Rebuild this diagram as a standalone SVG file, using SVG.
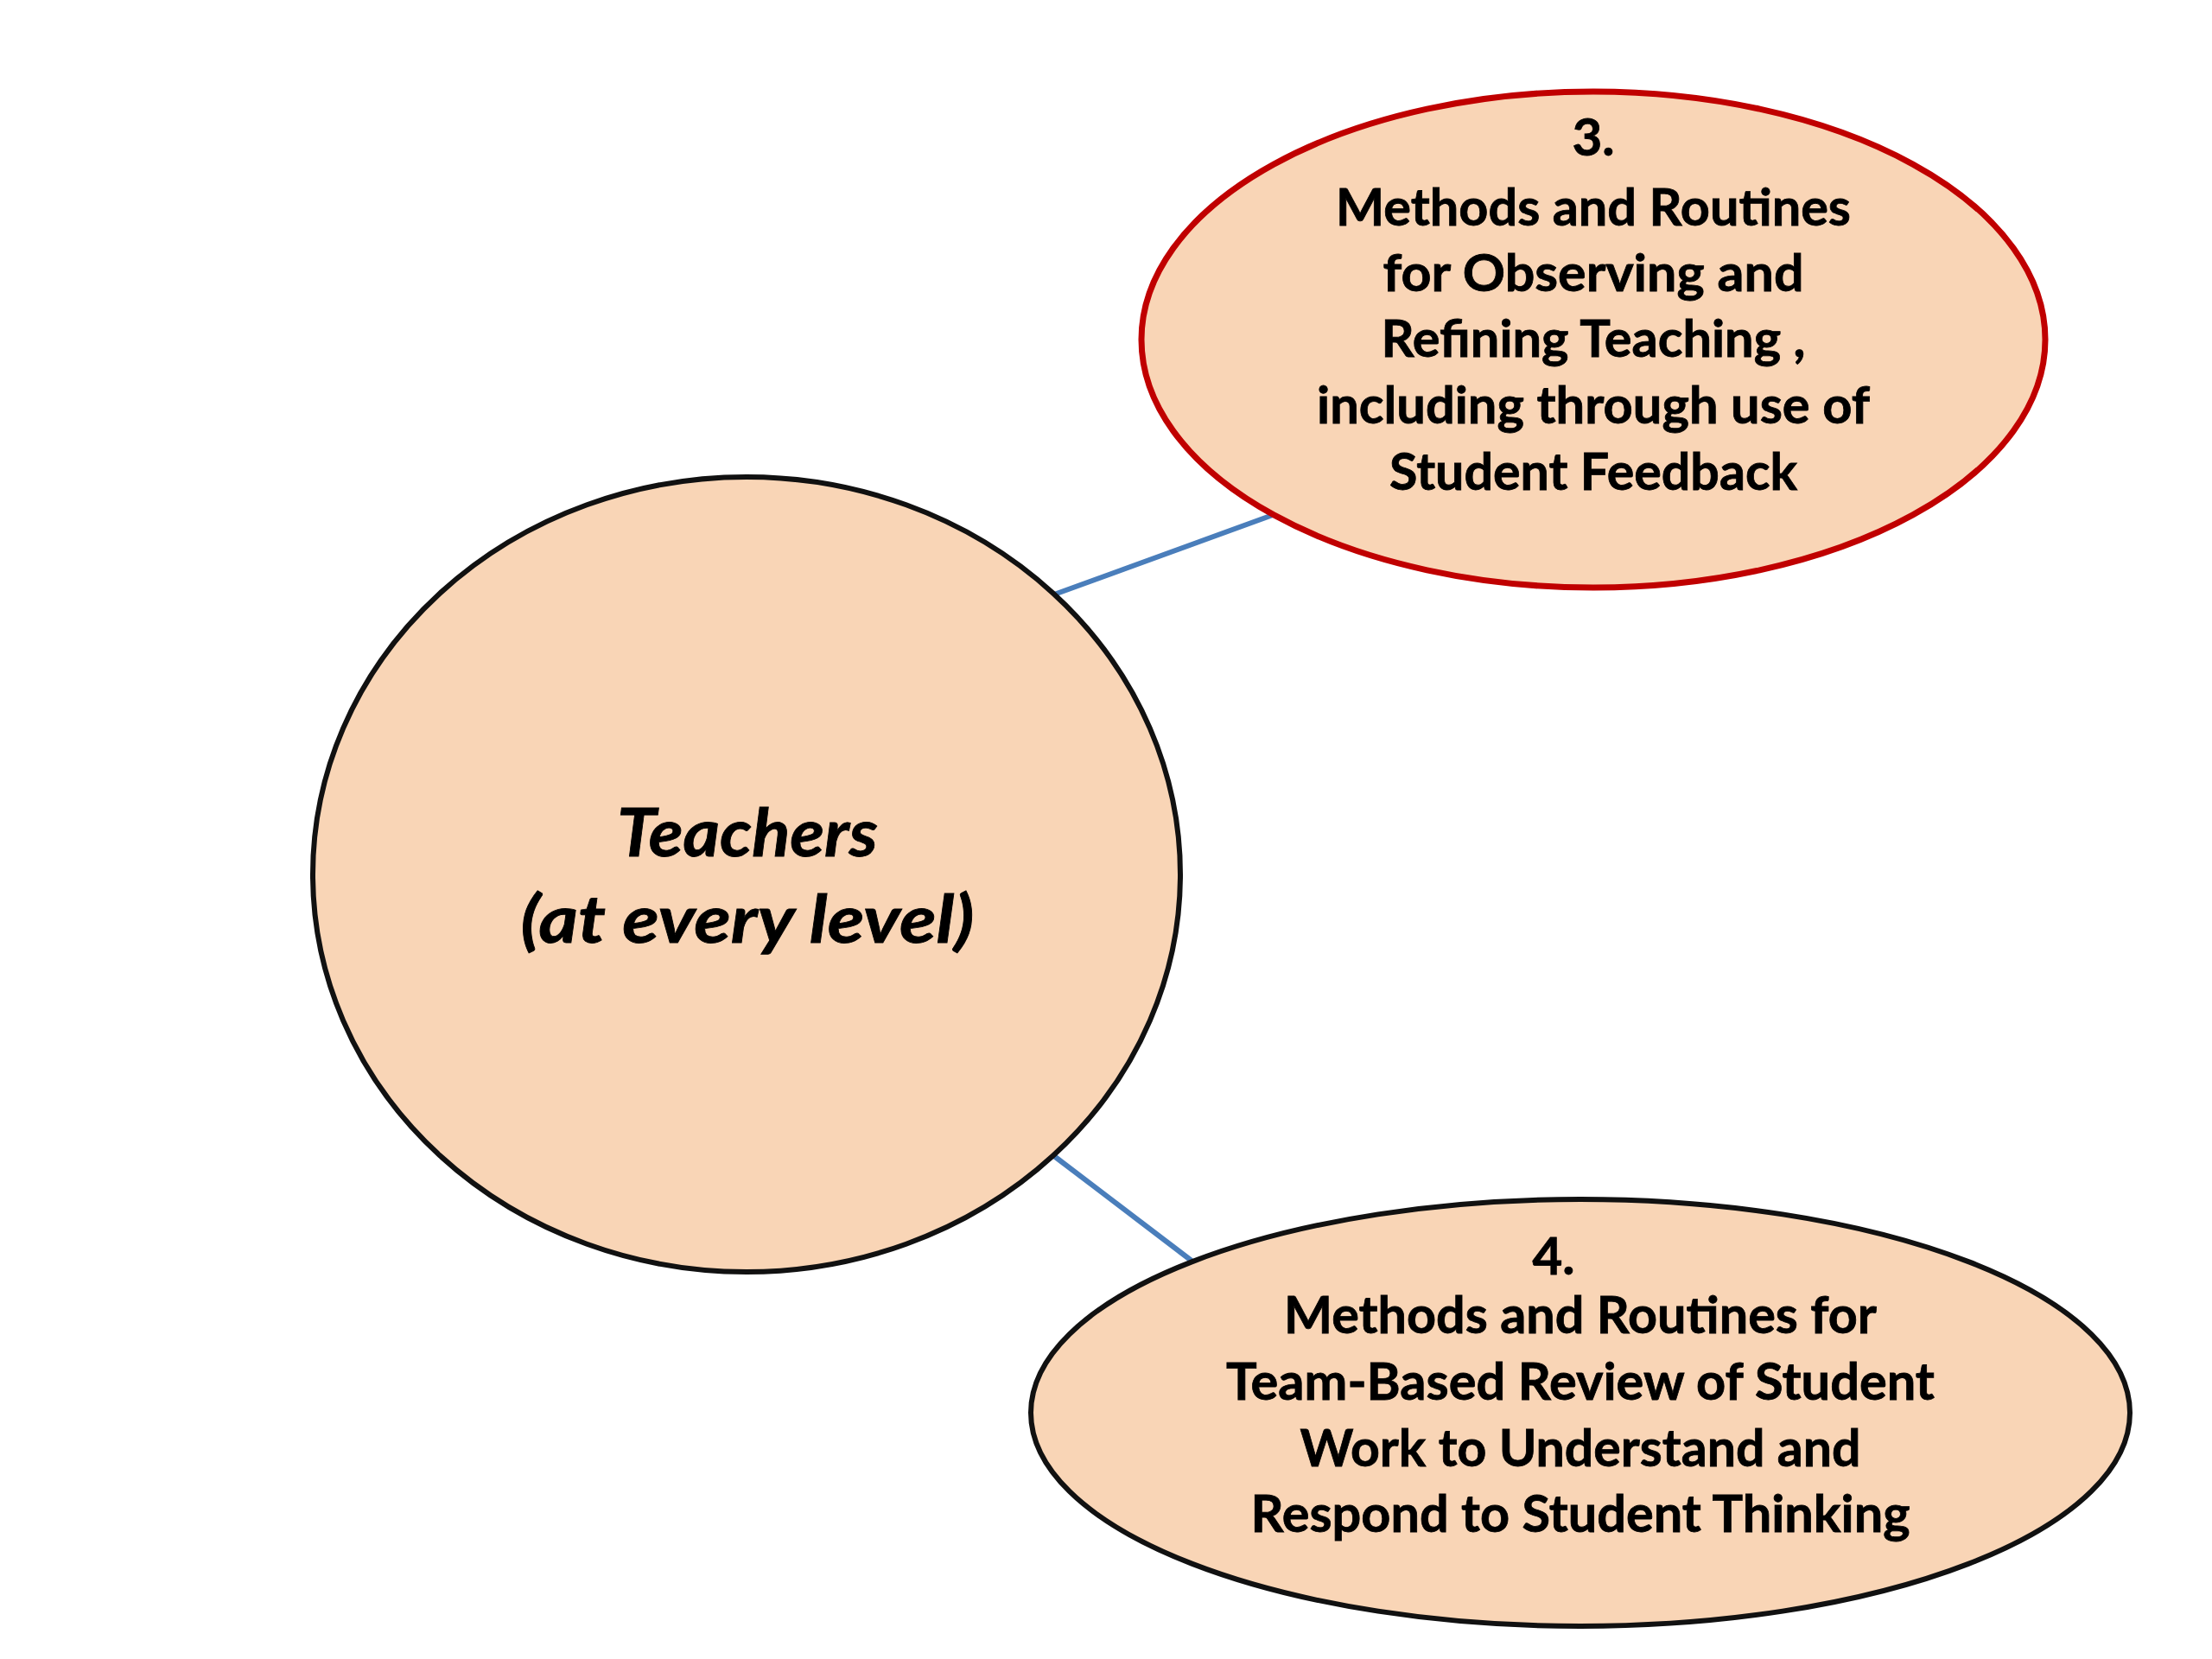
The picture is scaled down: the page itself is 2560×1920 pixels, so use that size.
<svg xmlns="http://www.w3.org/2000/svg" width="2560" height="1920" viewBox="0 0 2560 1920">
<style>
.node{fill:#F9D5B6;stroke-width:6}
.blk{stroke:#111111}
.red{stroke:#C00000;stroke-width:7}
.conn{stroke:#4A7EBB;stroke-width:6;fill:none}
.t{font-family:Lato,"Open Sans","Liberation Sans",sans-serif;font-weight:bold;fill:#000;text-anchor:middle;font-size:60px;stroke:#000;stroke-width:0.8}
.ti{font-family:Lato,"Open Sans","Liberation Sans",sans-serif;font-weight:bold;font-style:italic;fill:#000;text-anchor:middle;font-size:76px;stroke:#000;stroke-width:0.8}
</style>
<rect width="2560" height="1920" fill="#ffffff"/>
<g id="connectors">
<line class="conn" x1="1220" y1="688" x2="1473" y2="596"/>
<line class="conn" x1="1220" y1="1338" x2="1379" y2="1459"/>
</g>
<g id="teachers">
<ellipse class="node blk" cx="864" cy="1012" rx="502" ry="460"/>
<text class="ti" x="865" y="991" textLength="302" lengthAdjust="spacingAndGlyphs">Teachers</text>
<text class="ti" x="865" y="1091" textLength="525" lengthAdjust="spacingAndGlyphs">(at every level)</text>
</g>
<g id="node3">
<ellipse class="node red" cx="1844" cy="393" rx="523" ry="287"/>
<text class="t" x="1844" y="180">3.</text>
<text class="t" x="1844" y="261" textLength="596" lengthAdjust="spacingAndGlyphs">Methods and Routines</text>
<text class="t" x="1844" y="337" textLength="487" lengthAdjust="spacingAndGlyphs">for Observing  and</text>
<text class="t" x="1844" y="413" textLength="491" lengthAdjust="spacingAndGlyphs">Refining Teaching ,</text>
<text class="t" x="1844" y="490" textLength="640" lengthAdjust="spacingAndGlyphs">including through use of</text>
<text class="t" x="1844" y="567" textLength="472" lengthAdjust="spacingAndGlyphs">Student Feedback</text>
</g>
<g id="node4">
<ellipse class="node blk" cx="1829" cy="1635" rx="636" ry="247"/>
<text class="t" x="1798" y="1475">4.</text>
<text class="t" x="1829" y="1543" textLength="686" lengthAdjust="spacingAndGlyphs">Methods and Routines for</text>
<text class="t" x="1829" y="1620" textLength="820" lengthAdjust="spacingAndGlyphs">Team-Based Review of Student</text>
<text class="t" x="1829" y="1697" textLength="649" lengthAdjust="spacingAndGlyphs">Work to Understand and</text>
<text class="t" x="1829" y="1773" textLength="763" lengthAdjust="spacingAndGlyphs">Respond to Student Thinking</text>
</g>
</svg>
